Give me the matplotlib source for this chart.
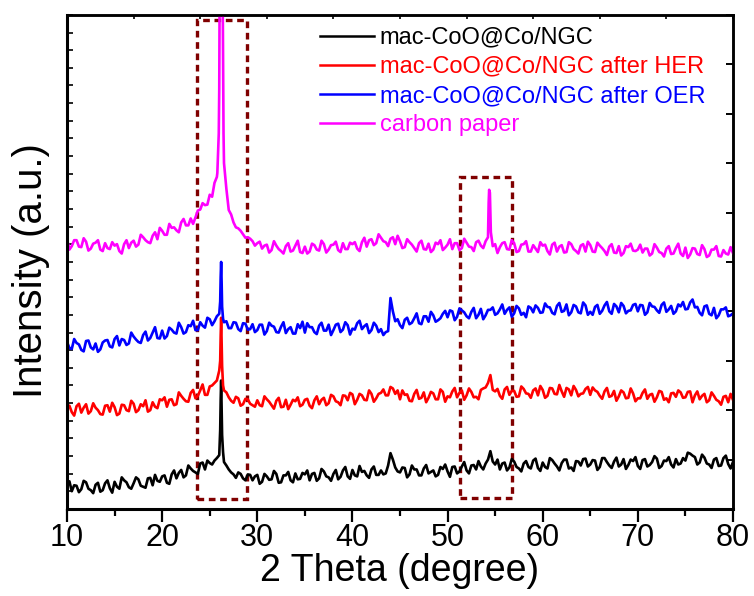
import numpy as np
import matplotlib
matplotlib.use("Agg")
import matplotlib.pyplot as plt
from matplotlib.patches import Rectangle

plt.rcParams['font.family'] = ['Liberation Sans', 'DejaVu Sans']

# 2 theta grid, 10..80 step 0.5, plus in-between samples at .25/.75
two_theta = np.arange(10.0, 80.01, 0.5)
two_theta_mid = np.arange(10.25, 80.0, 0.5)

black = [
    0.50, 0.36, 0.47, 0.40, 0.54, 0.38, 0.49, 0.35, 0.52, 0.42,
    0.55, 0.41, 0.58, 0.44, 0.52, 0.60, 0.45, 0.62, 0.48, 0.57,
    0.66, 0.53, 0.70, 0.62, 0.79, 0.68, 0.82, 0.74, 0.92, 0.80,
    0.93, 0.98, 1.09, 0.95, 0.80, 0.70, 0.74, 0.62, 0.70, 0.58,
    0.69, 0.55, 0.66, 0.60, 0.71, 0.54, 0.68, 0.58, 0.72, 0.61,
    0.70, 0.58, 0.73, 0.62, 0.76, 0.64, 0.71, 0.60, 0.78, 0.66,
    0.79, 0.66, 0.75, 0.68, 0.80, 0.69, 0.78, 0.72, 1.13, 0.84,
    0.74, 0.83, 0.70, 0.80, 0.68, 0.82, 0.72, 0.78, 0.69, 0.81,
    0.76, 0.85, 0.72, 0.86, 0.78, 0.88, 0.80, 0.86, 0.92, 1.17,
    0.90, 0.80, 0.94, 0.84, 0.96, 0.82, 0.92, 0.85, 0.98, 0.83,
    0.94, 0.82, 0.99, 0.86, 0.93, 1.00, 0.84, 0.97, 0.88, 1.02,
    0.90, 0.98, 0.85, 1.03, 0.88, 0.96, 0.86, 1.01, 0.89, 0.97,
    0.87, 0.99, 0.86, 0.95, 1.02, 0.87, 0.97, 0.90, 1.01, 0.92,
    0.98, 1.12, 1.05, 0.94, 1.04, 0.90, 1.00, 0.87, 1.03, 0.91,
    0.95,
]
black_mid = [
    0.56, 0.48, 0.34, 0.57, 0.41, 0.32, 0.53, 0.38, 0.58, 0.33,
    0.45, 0.64, 0.54, 0.41, 0.64, 0.47, 0.43, 0.63, 0.69, 0.55,
    0.68, 0.51, 0.78, 0.73, 0.64, 0.88, 0.77, 0.71, 0.94, 0.98,
    0.90, 1.03, 2.10, 0.88, 0.74, 0.63, 0.71, 0.58, 0.69, 0.66,
    0.51, 0.71, 0.59, 0.77, 0.53, 0.68, 0.75, 0.54, 0.60, 0.73,
    0.78, 0.71, 0.57, 0.81, 0.66, 0.57, 0.79, 0.65, 0.85, 0.61,
    0.68, 0.87, 0.77, 0.63, 0.86, 0.69, 0.70, 0.88, 1.00, 0.76,
    0.84, 0.64, 0.88, 0.80, 0.68, 0.89, 0.75, 0.66, 0.85, 0.90,
    0.65, 0.86, 0.76, 0.95, 0.72, 0.89, 0.97, 0.80, 1.00, 0.96,
    1.00, 0.92, 0.78, 1.01, 0.85, 0.76, 0.97, 0.82, 1.02, 0.77,
    0.85, 1.03, 0.92, 0.78, 1.00, 0.82, 0.77, 0.96, 1.01, 0.86,
    0.99, 0.79, 1.03, 0.95, 0.83, 1.04, 0.90, 0.81, 1.00, 1.05,
    0.81, 1.01, 0.89, 1.07, 0.83, 0.98, 1.05, 0.84, 0.90, 1.03,
    1.14, 1.08, 0.90, 1.10, 0.92, 0.83, 1.03, 0.88, 1.08, 0.82,
]
red = [
    2.10, 1.96, 2.08, 1.95, 2.12, 1.98, 2.05, 1.92, 2.09, 1.97,
    2.06, 1.93, 2.10, 1.98, 2.13, 2.00, 2.08, 1.97, 2.16, 2.04,
    2.20, 2.07, 2.22, 2.12, 2.29, 2.18, 2.35, 2.24, 2.40, 2.31,
    2.48, 2.55, 2.80, 2.40, 2.26, 2.15, 2.24, 2.12, 2.22, 2.10,
    2.20, 2.08, 2.22, 2.10, 2.19, 2.06, 2.21, 2.11, 2.18, 2.08,
    2.21, 2.09, 2.20, 2.12, 2.25, 2.14, 2.28, 2.16, 2.30, 2.20,
    2.32, 2.21, 2.30, 2.20, 2.33, 2.24, 2.35, 2.30, 2.47, 2.33,
    2.22, 2.31, 2.19, 2.33, 2.23, 2.36, 2.25, 2.34, 2.22, 2.37,
    2.28, 2.38, 2.26, 2.40, 2.30, 2.37, 2.27, 2.41, 2.46, 2.71,
    2.38, 2.29, 2.42, 2.31, 2.39, 2.28, 2.43, 2.33, 2.40, 2.30,
    2.41, 2.29, 2.44, 2.32, 2.38, 2.45, 2.30, 2.41, 2.33, 2.43,
    2.31, 2.40, 2.29, 2.38, 2.27, 2.39, 2.28, 2.36, 2.25, 2.34,
    2.24, 2.35, 2.23, 2.33, 2.26, 2.37, 2.24, 2.34, 2.27, 2.36,
    2.26, 2.38, 2.30, 2.22, 2.33, 2.20, 2.29, 2.18, 2.27, 2.16,
    2.21,
]
red_mid = [
    2.09, 1.89, 2.13, 2.05, 1.93, 2.14, 2.00, 1.91, 2.10, 2.15,
    1.90, 2.11, 2.00, 2.19, 1.96, 2.12, 2.20, 2.00, 2.07, 2.22,
    2.26, 2.21, 2.10, 2.36, 2.23, 2.17, 2.41, 2.29, 2.52, 2.31,
    2.50, 2.60, 3.40, 2.36, 2.19, 2.27, 2.09, 2.23, 2.13, 2.07,
    2.10, 2.28, 2.17, 2.03, 2.25, 2.07, 2.02, 2.21, 2.26, 2.11,
    2.23, 2.04, 2.28, 2.21, 2.10, 2.31, 2.18, 2.10, 2.29, 2.35,
    2.12, 2.33, 2.21, 2.40, 2.17, 2.33, 2.42, 2.30, 2.44, 2.40,
    2.40, 2.32, 2.18, 2.41, 2.25, 2.16, 2.37, 2.22, 2.42, 2.17,
    2.26, 2.45, 2.35, 2.21, 2.44, 2.26, 2.22, 2.44, 2.55, 2.41,
    2.43, 2.23, 2.47, 2.39, 2.27, 2.48, 2.34, 2.25, 2.44, 2.49,
    2.25, 2.45, 2.33, 2.51, 2.27, 2.42, 2.49, 2.28, 2.34, 2.47,
    2.46, 2.37, 2.23, 2.45, 2.29, 2.19, 2.40, 2.24, 2.44, 2.18,
    2.24, 2.42, 2.31, 2.17, 2.39, 2.21, 2.16, 2.35, 2.40, 2.25,
    2.37, 2.16, 2.38, 2.29, 2.16, 2.36, 2.21, 2.11, 2.29, 2.33,
]
blue = [
    3.38, 3.24, 3.36, 3.22, 3.40, 3.27, 3.35, 3.23, 3.41, 3.29,
    3.44, 3.31, 3.42, 3.35, 3.49, 3.38, 3.52, 3.41, 3.57, 3.46,
    3.61, 3.50, 3.63, 3.55, 3.68, 3.58, 3.70, 3.62, 3.78, 3.67,
    3.84, 3.80, 3.95, 3.78, 3.66, 3.78, 3.64, 3.76, 3.63, 3.74,
    3.62, 3.73, 3.60, 3.71, 3.58, 3.69, 3.56, 3.68, 3.55, 3.66,
    3.57, 3.68, 3.58, 3.71, 3.61, 3.73, 3.62, 3.75, 3.63, 3.72,
    3.65, 3.76, 3.64, 3.74, 3.62, 3.71, 3.64, 3.58, 4.27, 3.80,
    3.72, 3.83, 3.74, 3.86, 3.76, 3.90, 3.79, 3.92, 3.82, 3.95,
    3.88, 4.00, 3.89, 4.02, 3.90, 3.99, 3.86, 4.05, 3.92, 4.03,
    3.93, 4.04, 3.95, 4.08, 3.96, 4.06, 3.97, 4.10, 3.98, 4.07,
    3.98, 4.09, 3.97, 4.11, 3.99, 4.14, 3.98, 4.10, 3.96, 4.12,
    3.99, 4.09, 3.95, 4.12, 4.00, 4.15, 3.98, 4.11, 4.01, 4.13,
    4.00, 4.12, 3.98, 4.10, 4.02, 4.13, 3.99, 4.11, 4.00, 4.10,
    4.04, 4.18, 4.08, 3.97, 4.10, 3.95, 4.07, 3.92, 4.04, 3.90,
    3.96,
]
blue_mid = [
    3.26, 3.44, 3.33, 3.19, 3.41, 3.23, 3.18, 3.37, 3.42, 3.27,
    3.50, 3.44, 3.32, 3.57, 3.43, 3.36, 3.59, 3.46, 3.68, 3.45,
    3.45, 3.67, 3.57, 3.77, 3.55, 3.72, 3.81, 3.62, 3.71, 3.87,
    3.72, 3.90, 4.60, 3.80, 3.66, 3.77, 3.60, 3.75, 3.64, 3.58,
    3.73, 3.53, 3.77, 3.69, 3.57, 3.78, 3.64, 3.55, 3.74, 3.79,
    3.76, 3.68, 3.54, 3.77, 3.61, 3.52, 3.73, 3.58, 3.78, 3.53,
    3.63, 3.81, 3.70, 3.56, 3.77, 3.58, 3.52, 3.60, 4.00, 3.84,
    3.66, 3.87, 3.77, 3.96, 3.74, 3.90, 3.99, 3.79, 3.86, 4.01,
    4.02, 3.82, 4.06, 3.98, 3.86, 4.07, 3.93, 3.84, 4.03, 4.08,
    3.96, 4.14, 4.03, 3.89, 4.11, 3.93, 3.88, 4.07, 4.12, 3.97,
    4.16, 4.08, 3.94, 4.17, 4.01, 3.92, 4.13, 3.98, 4.18, 3.93,
    3.93, 4.13, 4.01, 4.19, 3.95, 4.10, 4.17, 3.96, 4.02, 4.15,
    4.13, 3.93, 4.17, 4.09, 3.97, 4.18, 4.04, 3.95, 4.14, 4.19,
    4.05, 4.24, 4.09, 3.92, 4.12, 3.92, 3.86, 4.04, 4.08, 3.92,
]
magenta = [
    5.46, 5.32, 5.44, 5.30, 5.41, 5.27, 5.39, 5.25, 5.38, 5.26,
    5.33, 5.22, 5.36, 5.28, 5.43, 5.35, 5.50, 5.40, 5.53, 5.46,
    5.63, 5.55, 5.69, 5.64, 5.80, 5.74, 5.88, 5.90, 6.06, 6.15,
    6.36, 6.60, 8.50, 7.00, 6.05, 5.80, 5.68, 5.56, 5.50, 5.42,
    5.38, 5.27, 5.35, 5.24, 5.33, 5.22, 5.32, 5.21, 5.33, 5.20,
    5.31, 5.21, 5.34, 5.23, 5.36, 5.25, 5.35, 5.24, 5.38, 5.26,
    5.36, 5.27, 5.40, 5.31, 5.46, 5.38, 5.49, 5.40, 5.47, 5.36,
    5.42, 5.30, 5.40, 5.28, 5.38, 5.26, 5.37, 5.25, 5.36, 5.24,
    5.35, 5.26, 5.38, 5.28, 5.39, 5.30, 5.40, 5.33, 5.42, 6.00,
    5.36, 5.30, 5.40, 5.25, 5.38, 5.22, 5.36, 5.21, 5.34, 5.20,
    5.33, 5.22, 5.35, 5.21, 5.34, 5.20, 5.36, 5.22, 5.33, 5.21,
    5.34, 5.20, 5.33, 5.22, 5.31, 5.19, 5.32, 5.18, 5.30, 5.23,
    5.25, 5.19, 5.27, 5.17, 5.29, 5.18, 5.27, 5.16, 5.28, 5.17,
    5.29, 5.15, 5.27, 5.14, 5.26, 5.13, 5.25, 5.12, 5.24, 5.15,
    5.18,
]
magenta_mid = [
    5.25, 5.44, 5.31, 5.48, 5.23, 5.37, 5.44, 5.22, 5.28, 5.40,
    5.36, 5.17, 5.44, 5.39, 5.31, 5.55, 5.44, 5.38, 5.60, 5.69,
    5.55, 5.77, 5.70, 5.60, 5.87, 5.74, 5.77, 6.04, 6.19, 6.16,
    6.32, 6.72, 10.80, 6.48, 5.96, 5.70, 5.63, 5.49, 5.47, 5.33,
    5.41, 5.33, 5.19, 5.42, 5.26, 5.17, 5.38, 5.23, 5.43, 5.18,
    5.17, 5.37, 5.25, 5.43, 5.19, 5.34, 5.41, 5.20, 5.26, 5.39,
    5.40, 5.22, 5.49, 5.44, 5.34, 5.56, 5.42, 5.32, 5.50, 5.53,
    5.28, 5.46, 5.35, 5.21, 5.43, 5.25, 5.20, 5.39, 5.44, 5.29,
    5.46, 5.38, 5.24, 5.47, 5.31, 5.22, 5.43, 5.28, 5.50, 5.32,
    5.18, 5.38, 5.26, 5.44, 5.20, 5.35, 5.42, 5.21, 5.27, 5.40,
    5.35, 5.15, 5.39, 5.31, 5.19, 5.40, 5.26, 5.17, 5.36, 5.41,
    5.21, 5.39, 5.28, 5.14, 5.36, 5.18, 5.13, 5.32, 5.37, 5.22,
    5.35, 5.27, 5.13, 5.36, 5.20, 5.11, 5.32, 5.17, 5.37, 5.12,
    5.08, 5.28, 5.16, 5.34, 5.10, 5.25, 5.32, 5.11, 5.17, 5.30,
]

# sharp peaks sampled finer than the grid
black_peak_x = [26.1, 26.15, 26.2, 26.3, 26.4]
black_peak_y = [1.6, 2.2, 2.6, 1.5, 1.15]
red_peak_x = [26.1, 26.15, 26.2, 26.3, 26.4]
red_peak_y = [3.0, 3.5, 3.87, 2.9, 2.5]
blue_peak_x = [26.1, 26.15, 26.2, 26.3, 26.4]
blue_peak_y = [4.2, 4.7, 5.0, 4.1, 3.85]
magenta_peak_x = [25.8, 25.95, 26.05, 26.35, 26.45, 54.32, 54.37, 54.45, 54.55]
magenta_peak_y = [6.8, 7.6, 10.8, 10.8, 7.6, 6.2, 6.46, 6.40, 5.6]

labels = ["mac-CoO@Co/NGC", "mac-CoO@Co/NGC after HER",
          "mac-CoO@Co/NGC after OER", "carbon paper"]
colors = ["black", "red", "blue", "magenta"]

# highlighted regions: (x0, x1, y0, y1)
boxes = [(23.65, 28.95, 0.2, 9.9), (51.3, 56.8, 0.22, 6.72)]


def merge(y, y_mid, px, py):
    xx = np.concatenate([two_theta, two_theta_mid, px])
    yy = np.concatenate([y, y_mid, py])
    order = np.argsort(xx, kind="stable")
    return xx[order], yy[order]


series = [
    merge(black, black_mid, black_peak_x, black_peak_y),
    merge(red, red_mid, red_peak_x, red_peak_y),
    merge(blue, blue_mid, blue_peak_x, blue_peak_y),
    merge(magenta, magenta_mid, magenta_peak_x, magenta_peak_y),
]

fig = plt.figure(figsize=(7.54, 5.96), dpi=100)
ax = fig.add_axes([0.0889, 0.146, 0.8832, 0.829])

for (x, y), c, lab in zip(series, colors, labels):
    ax.plot(x, y, color=c, lw=1.9, label=lab)

for x0, x1, y0, y1 in boxes:
    ax.add_patch(Rectangle((x0, y0), x1 - x0, y1 - y0, fill=False,
                           edgecolor="#800000", lw=2.4,
                           linestyle=(0, (2, 1.4))))

ax.set_xlim(10, 80)
ax.set_ylim(0, 10)
ax.set_xticks(np.arange(10, 81, 10))
ax.set_xticks(np.arange(15, 80, 10), minor=True)
ax.set_yticks(np.linspace(0, 10, 29))
ax.set_yticklabels([])
ax.tick_params(axis="x", which="major", direction="out", length=9, width=1.6,
               labelsize=22, pad=1)
ax.tick_params(axis="x", which="minor", direction="out", length=5, width=1.6)
ax.tick_params(axis="y", direction="in", length=4, width=1.2)

for side in ["left", "bottom"]:
    ax.spines[side].set_linewidth(2.2)
for side in ["top", "right"]:
    ax.spines[side].set_linewidth(1.8)

# top and right axes carry their own tick spacing
top = ax.secondary_xaxis("top")
top.set_xticks(np.linspace(10, 80, 11))
top.set_xticklabels([])
top.tick_params(direction="in", length=3, width=1.2)
top.spines["top"].set_linewidth(1.8)
right = ax.secondary_yaxis("right")
right.set_yticks(np.arange(0, 10.1, 1))
right.set_yticklabels([])
right.tick_params(direction="in", length=5, width=1.4)
right.spines["right"].set_linewidth(1.8)

ax.set_xlabel("2 Theta (degree)", fontsize=27, labelpad=0)
ax.set_ylabel("Intensity (a.u.)", fontsize=29)
ax.yaxis.set_label_coords(-0.025, 0.482)

leg = ax.legend(loc="upper left", bbox_to_anchor=(0.365, 0.995), frameon=False,
                fontsize=17, handlelength=2.3, handletextpad=0.25,
                labelspacing=0.3, borderaxespad=0)
for text, c in zip(leg.get_texts(), colors):
    text.set_color(c)
for line in leg.get_lines():
    line.set_linewidth(1.8)

fig.savefig("out.png", dpi=100)
